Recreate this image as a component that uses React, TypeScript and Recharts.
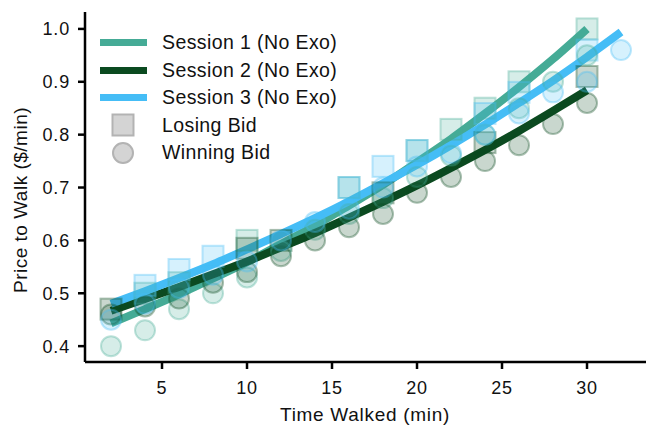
import { ComposedChart, Line, Scatter, XAxis, YAxis, Legend, Label } from 'recharts';

// time points (min)
const times = [2, 4, 6, 8, 10, 12, 14, 16, 18, 20, 22, 24, 26, 28, 30];
const timesS3 = [2, 4, 6, 8, 10, 12, 14, 16, 18, 20, 22, 24, 26, 28, 30, 32];

// fitted curves
const fitS1 = [0.443, 0.47, 0.498, 0.528, 0.559, 0.593, 0.628, 0.666, 0.705, 0.748, 0.792, 0.84, 0.89, 0.943, 1.0];
const fitS2 = [0.467, 0.489, 0.512, 0.536, 0.56, 0.587, 0.614, 0.643, 0.673, 0.704, 0.737, 0.771, 0.807, 0.845, 0.884];
const fitS3 = [0.48, 0.504, 0.529, 0.555, 0.583, 0.612, 0.642, 0.674, 0.708, 0.743, 0.78, 0.819, 0.86, 0.902, 0.947, 0.994];

// winning bids (circles)
const winS1 = [0.4, 0.43, 0.47, 0.5, 0.53, 0.58, 0.62, 0.65, 0.68, 0.72, 0.76, 0.8, 0.85, 0.9, 0.95];
const winS2 = [0.46, 0.475, 0.49, 0.52, 0.54, 0.57, 0.6, 0.625, 0.65, 0.69, 0.72, 0.75, 0.78, 0.82, 0.86];
const winS3 = [0.45, 0.48, 0.51, 0.535, 0.56, 0.6, 0.635, 0.66, 0.7, 0.74, 0.765, 0.8, 0.84, 0.88, 0.9, 0.96];

// losing bids (squares)
const loseTimesS1 = [4, 6, 10, 16, 20, 22, 24, 26, 30];
const loseS1 = [0.5, 0.52, 0.6, 0.7, 0.77, 0.81, 0.85, 0.9, 1.0];
const loseTimesS2 = [2, 10, 12, 18, 24, 30];
const loseS2 = [0.47, 0.585, 0.6, 0.69, 0.785, 0.91];
const loseTimesS3 = [4, 6, 8, 16, 18, 20, 24, 26, 30];
const loseS3 = [0.515, 0.545, 0.57, 0.7, 0.74, 0.77, 0.84, 0.88, 0.96];

const xTicks = [5, 10, 15, 20, 25, 30];
const yTicks = [0.4, 0.5, 0.6, 0.7, 0.8, 0.9, 1.0];

const sessionNames = ['Session 1 (No Exo)', 'Session 2 (No Exo)', 'Session 3 (No Exo)'];
const colors = ['#45ab96', '#0b4a20', '#45bdf6'];

const FONT = '"Liberation Sans", Arial, Helvetica, sans-serif';

const toPoints = (ts: number[], vs: number[]) => ts.map((t, i) => ({ t, v: vs[i] }));

const circleShape = (color: string) => (props: any) => (
  <circle
    cx={props.cx}
    cy={props.cy}
    r={10}
    fill={color}
    fillOpacity={0.22}
    stroke={color}
    strokeOpacity={0.35}
    strokeWidth={2}
  />
);

const squareShape = (color: string) => (props: any) => (
  <rect
    x={props.cx - 10.5}
    y={props.cy - 10.5}
    width={21}
    height={21}
    fill={color}
    fillOpacity={0.22}
    stroke={color}
    strokeOpacity={0.35}
    strokeWidth={2}
  />
);

const LegendBox = () => (
  <div style={{ fontFamily: FONT, fontSize: 19.5, letterSpacing: 0.4, color: '#111' }}>
    {sessionNames.map((name, i) => (
      <div key={name} style={{ height: 27.5, display: 'flex', alignItems: 'center' }}>
        <div style={{ width: 47, height: 7, background: colors[i], marginRight: 15 }} />
        <span>{name}</span>
      </div>
    ))}
    <div style={{ height: 27.5, display: 'flex', alignItems: 'center' }}>
      <svg width={62} height={24}>
        <rect x={12.5} y={1.5} width={21} height={21} fill="#d4d4d4" stroke="#b3b3b3" strokeWidth={2} />
      </svg>
      <span>Losing Bid</span>
    </div>
    <div style={{ height: 27.5, display: 'flex', alignItems: 'center' }}>
      <svg width={62} height={24}>
        <circle cx={23} cy={12} r={10} fill="#d4d4d4" stroke="#b3b3b3" strokeWidth={2} />
      </svg>
      <span>Winning Bid</span>
    </div>
  </div>
);

const App = () => {
  const fits = [toPoints(times, fitS1), toPoints(times, fitS2), toPoints(timesS3, fitS3)];
  const wins = [toPoints(times, winS1), toPoints(times, winS2), toPoints(timesS3, winS3)];
  const loses = [
    toPoints(loseTimesS1, loseS1),
    toPoints(loseTimesS2, loseS2),
    toPoints(loseTimesS3, loseS3),
  ];

  const tickStyle = { fontFamily: FONT, fontSize: 18, fill: '#111', letterSpacing: 0.8 };

  return (
    <div style={{ position: 'absolute', left: 0, top: 0, width: 646, height: 426, background: '#fff' }}>
      <ComposedChart width={646} height={426} margin={{ top: 12, right: 0, bottom: 0, left: 0 }}>
        <XAxis
          type="number"
          dataKey="t"
          domain={[0.47, 33.47]}
          ticks={xTicks}
          allowDataOverflow
          stroke="#000"
          strokeWidth={2.5}
          tickSize={7}
          tickMargin={12}
          tick={tickStyle}
          height={64}
        >
          <Label
            content={() => (
              <text
                x={365}
                y={421}
                textAnchor="middle"
                fontFamily={FONT}
                fontSize={19}
                letterSpacing={0.7}
                fill="#111"
              >
                Time Walked (min)
              </text>
            )}
          />
        </XAxis>
        <YAxis
          type="number"
          dataKey="v"
          domain={[0.37, 1.032]}
          ticks={yTicks}
          allowDataOverflow
          tickFormatter={(v: number) => v.toFixed(1)}
          stroke="#000"
          strokeWidth={2.5}
          tickSize={7}
          tickMargin={8}
          tick={tickStyle}
          width={85}
        >
          <Label
            content={() => (
              <text
                x={20}
                y={200}
                transform="rotate(-90 20 200)"
                textAnchor="middle"
                dominantBaseline="central"
                fontFamily={FONT}
                fontSize={19}
                letterSpacing={0.5}
                fill="#111"
              >
                Price to Walk ($/min)
              </text>
            )}
          />
        </YAxis>
        <Legend
          content={() => <LegendBox />}
          layout="vertical"
          align="center"
          verticalAlign="middle"
          wrapperStyle={{ left: 100, top: 29, width: 270, height: 140 }}
        />
        {[0, 1, 2].map((i) => (
          <Scatter
            key={`lose-${i}`}
            data={loses[i]}
            dataKey="v"
            shape={squareShape(colors[i])}
            isAnimationActive={false}
            legendType="none"
          />
        ))}
        {[0, 1, 2].map((i) => (
          <Scatter
            key={`win-${i}`}
            data={wins[i]}
            dataKey="v"
            shape={circleShape(colors[i])}
            isAnimationActive={false}
            legendType="none"
          />
        ))}
        {[0, 1, 2].map((i) => (
          <Line
            key={`fit-${i}`}
            data={fits[i]}
            dataKey="v"
            type="monotone"
            stroke={colors[i]}
            strokeWidth={8}
            dot={false}
            activeDot={false}
            isAnimationActive={false}
            name={sessionNames[i]}
          />
        ))}
      </ComposedChart>
    </div>
  );
};

export default App;
